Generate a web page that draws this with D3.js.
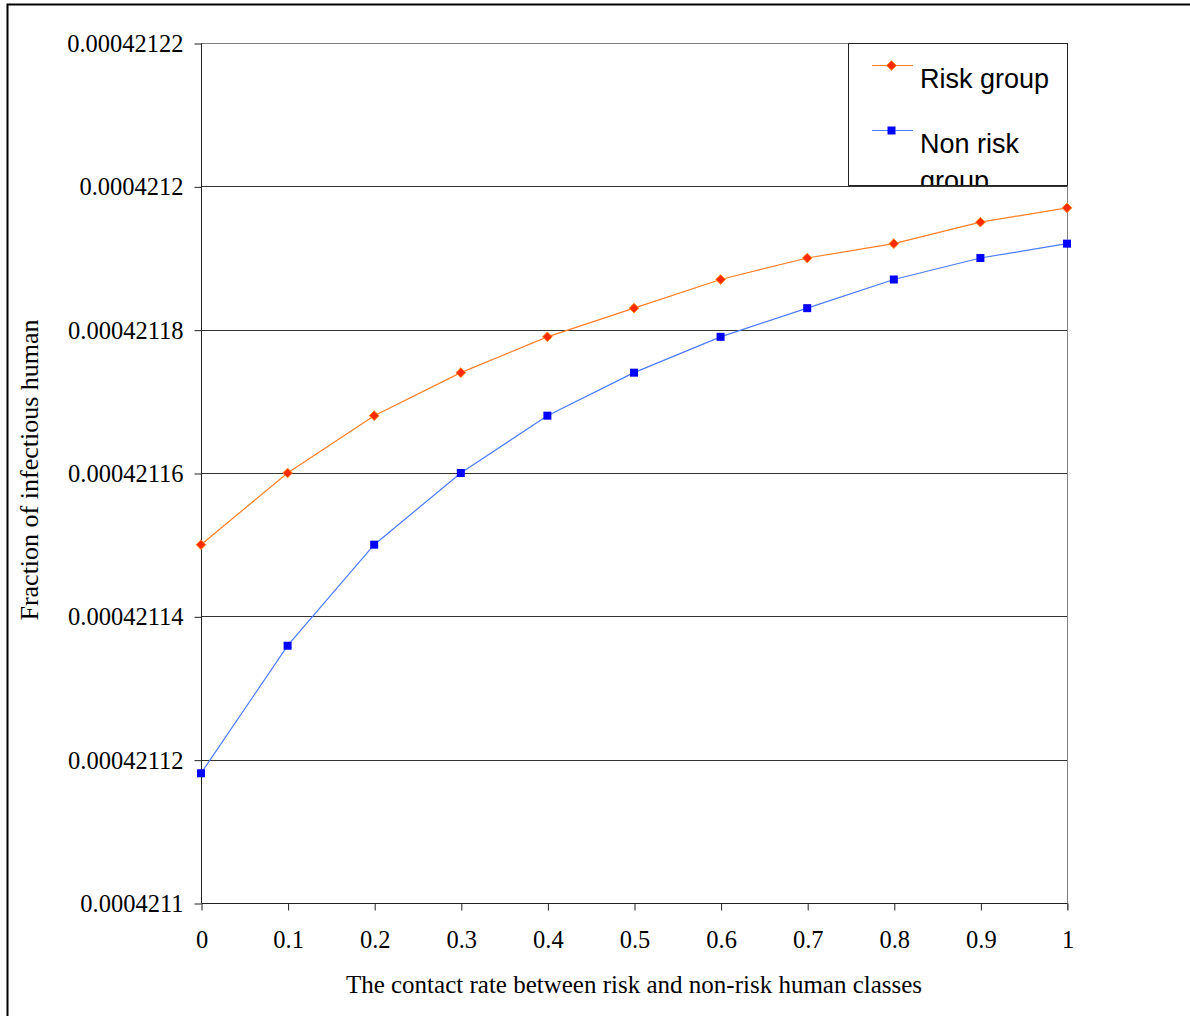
<!DOCTYPE html>
<html>
<head>
<meta charset="utf-8">
<script src="https://cdn.jsdelivr.net/npm/d3@7"></script>
<style>
  body { margin: 0; background: #fff; }
  svg { display: block; }
  .tick-label { font-family: "Liberation Serif", "Times New Roman", serif; font-size: 24.5px; fill: #000; }
  .axis-title { font-family: "Liberation Serif", "Times New Roman", serif; font-size: 25px; fill: #000; }
  .legend-text { font-family: "Liberation Sans", Arial, sans-serif; font-size: 27px; fill: #000; }
</style>
</head>
<body>
<div id="container"></div>
<script>
/* DATA */
const contactRates = [0, 0.1, 0.2, 0.3, 0.4, 0.5, 0.6, 0.7, 0.8, 0.9, 1];
const riskGroup = [0.00042115, 0.00042116, 0.000421168, 0.000421174, 0.000421179, 0.000421183,
                   0.000421187, 0.00042119, 0.000421192, 0.000421195, 0.000421197];
const nonRiskGroup = [0.0004211181, 0.0004211359, 0.00042115, 0.00042116, 0.000421168, 0.000421174,
                      0.000421179, 0.000421183, 0.000421187, 0.00042119, 0.000421192];
const yTicks = [0.0004211, 0.00042112, 0.00042114, 0.00042116, 0.00042118, 0.0004212, 0.00042122];
const yTickLabels = ["0.0004211", "0.00042112", "0.00042114", "0.00042116", "0.00042118", "0.0004212", "0.00042122"];
const xTickLabels = ["0", "0.1", "0.2", "0.3", "0.4", "0.5", "0.6", "0.7", "0.8", "0.9", "1"];

/* CONSTANTS */
const width = 1190;
const height = 1016;
const plot = { left: 201, right: 1067, top: 43, bottom: 903 };

/* SCALES */
const xScale = d3.scaleLinear().domain([0, 1]).range([plot.left, plot.right]);
const yScale = d3.scaleLinear().domain([0.0004211, 0.00042122]).range([plot.bottom, plot.top]);

const svg = d3.select("#container")
  .append("svg")
  .attr("width", width)
  .attr("height", height);

// outer frame (runs off the page on right and bottom)
svg.append("rect")
  .attr("x", 7.5).attr("y", 4.5)
  .attr("width", 1200).attr("height", 1100)
  .attr("fill", "none")
  .attr("stroke", "#000")
  .attr("stroke-width", 2);

// gridlines
svg.append("g")
  .selectAll("line")
  .data(yTicks.slice(1))
  .join("line")
  .attr("x1", plot.left).attr("x2", plot.right)
  .attr("y1", d => Math.round(yScale(d)) + 0.5)
  .attr("y2", d => Math.round(yScale(d)) + 0.5)
  .attr("stroke", (d, i) => i === yTicks.length - 2 ? "#808080" : "#333")
  .attr("stroke-width", 1);

// right border of plot
svg.append("line")
  .attr("x1", plot.right + 0.5).attr("x2", plot.right + 0.5)
  .attr("y1", plot.top).attr("y2", plot.bottom + 7)
  .attr("stroke", "#808080");

// y-axis
const yAxis = d3.axisLeft(yScale)
  .tickValues(yTicks)
  .tickFormat((d, i) => yTickLabels[i])
  .tickSize(7)
  .tickPadding(11);
const gy = svg.append("g")
  .attr("transform", `translate(${plot.left + 0.5}, 0.5)`)
  .call(yAxis);
gy.select(".domain").attr("stroke", "#222").attr("d", `M0,${plot.top}V${plot.bottom}`);
gy.selectAll(".tick line").attr("stroke", "#222");
gy.selectAll(".tick text").attr("class", "tick-label");
gy.attr("font-size", null).attr("font-family", null);

// x-axis
const xAxis = d3.axisBottom(xScale)
  .tickValues(contactRates)
  .tickFormat((d, i) => xTickLabels[i])
  .tickSize(7)
  .tickPadding(20);
const gx = svg.append("g")
  .attr("transform", `translate(0.5, ${plot.bottom + 0.5})`)
  .call(xAxis);
gx.select(".domain").attr("stroke", "#222").attr("d", `M${plot.left},0H${plot.right}`);
gx.selectAll(".tick line").attr("stroke", "#222");
gx.selectAll(".tick text").attr("class", "tick-label");
gx.attr("font-size", null).attr("font-family", null);

// axis titles
svg.append("text")
  .attr("class", "axis-title")
  .attr("text-anchor", "middle")
  .attr("x", 634)
  .attr("y", 993)
  .text("The contact rate between risk and non-risk human classes");

svg.append("text")
  .attr("class", "axis-title")
  .attr("text-anchor", "middle")
  .attr("transform", "rotate(-90)")
  .attr("x", -470)
  .attr("y", 38)
  .style("font-size", "26px")
  .text("Fraction of infectious human");

// lines
const line = d3.line()
  .x((d, i) => xScale(contactRates[i]))
  .y(d => yScale(d));

svg.append("path")
  .datum(riskGroup)
  .attr("d", line)
  .attr("fill", "none")
  .attr("stroke", "#ff7f27")
  .attr("stroke-width", 1.2);

svg.append("path")
  .datum(nonRiskGroup)
  .attr("d", line)
  .attr("fill", "none")
  .attr("stroke", "#4a7bff")
  .attr("stroke-width", 1.2);

// markers
const diamond = d3.symbol().type(d3.symbolDiamond2).size(60);
svg.append("g")
  .selectAll("path")
  .data(riskGroup)
  .join("path")
  .attr("transform", (d, i) => `translate(${xScale(contactRates[i])}, ${yScale(d)})`)
  .attr("d", diamond)
  .attr("fill", "#ff2a00")
  .attr("stroke", "#ff8c1a")
  .attr("stroke-width", 1);

svg.append("g")
  .selectAll("rect")
  .data(nonRiskGroup)
  .join("rect")
  .attr("x", (d, i) => xScale(contactRates[i]) - 4)
  .attr("y", d => yScale(d) - 4)
  .attr("width", 8)
  .attr("height", 8)
  .attr("fill", "#0000ff");

// legend
const legend = svg.append("g");
legend.append("clipPath")
  .attr("id", "legend-clip")
  .append("rect")
  .attr("x", 848).attr("y", 43).attr("width", 220).attr("height", 142);

legend.append("rect")
  .attr("x", 848.5).attr("y", 43.5)
  .attr("width", 219).attr("height", 142)
  .attr("fill", "#fff")
  .attr("stroke", "#222");

const legendG = legend.append("g").attr("clip-path", "url(#legend-clip)");

legendG.append("line")
  .attr("x1", 872).attr("x2", 913).attr("y1", 65.5).attr("y2", 65.5)
  .attr("stroke", "#ff7f27").attr("stroke-width", 1.2);
legendG.append("path")
  .attr("transform", "translate(891.5, 65.5)")
  .attr("d", diamond)
  .attr("fill", "#ff2a00")
  .attr("stroke", "#ff8c1a");
legendG.append("text")
  .attr("class", "legend-text")
  .attr("x", 920).attr("y", 88)
  .text("Risk group");

legendG.append("line")
  .attr("x1", 872).attr("x2", 913).attr("y1", 130.5).attr("y2", 130.5)
  .attr("stroke", "#4a7bff").attr("stroke-width", 1.2);
legendG.append("rect")
  .attr("x", 887.5).attr("y", 126.5).attr("width", 8).attr("height", 8)
  .attr("fill", "#0000ff");
legendG.append("text")
  .attr("class", "legend-text")
  .attr("x", 920).attr("y", 153)
  .text("Non risk");
legendG.append("text")
  .attr("class", "legend-text")
  .attr("x", 920).attr("y", 190)
  .text("group");
</script>
</body>
</html>
